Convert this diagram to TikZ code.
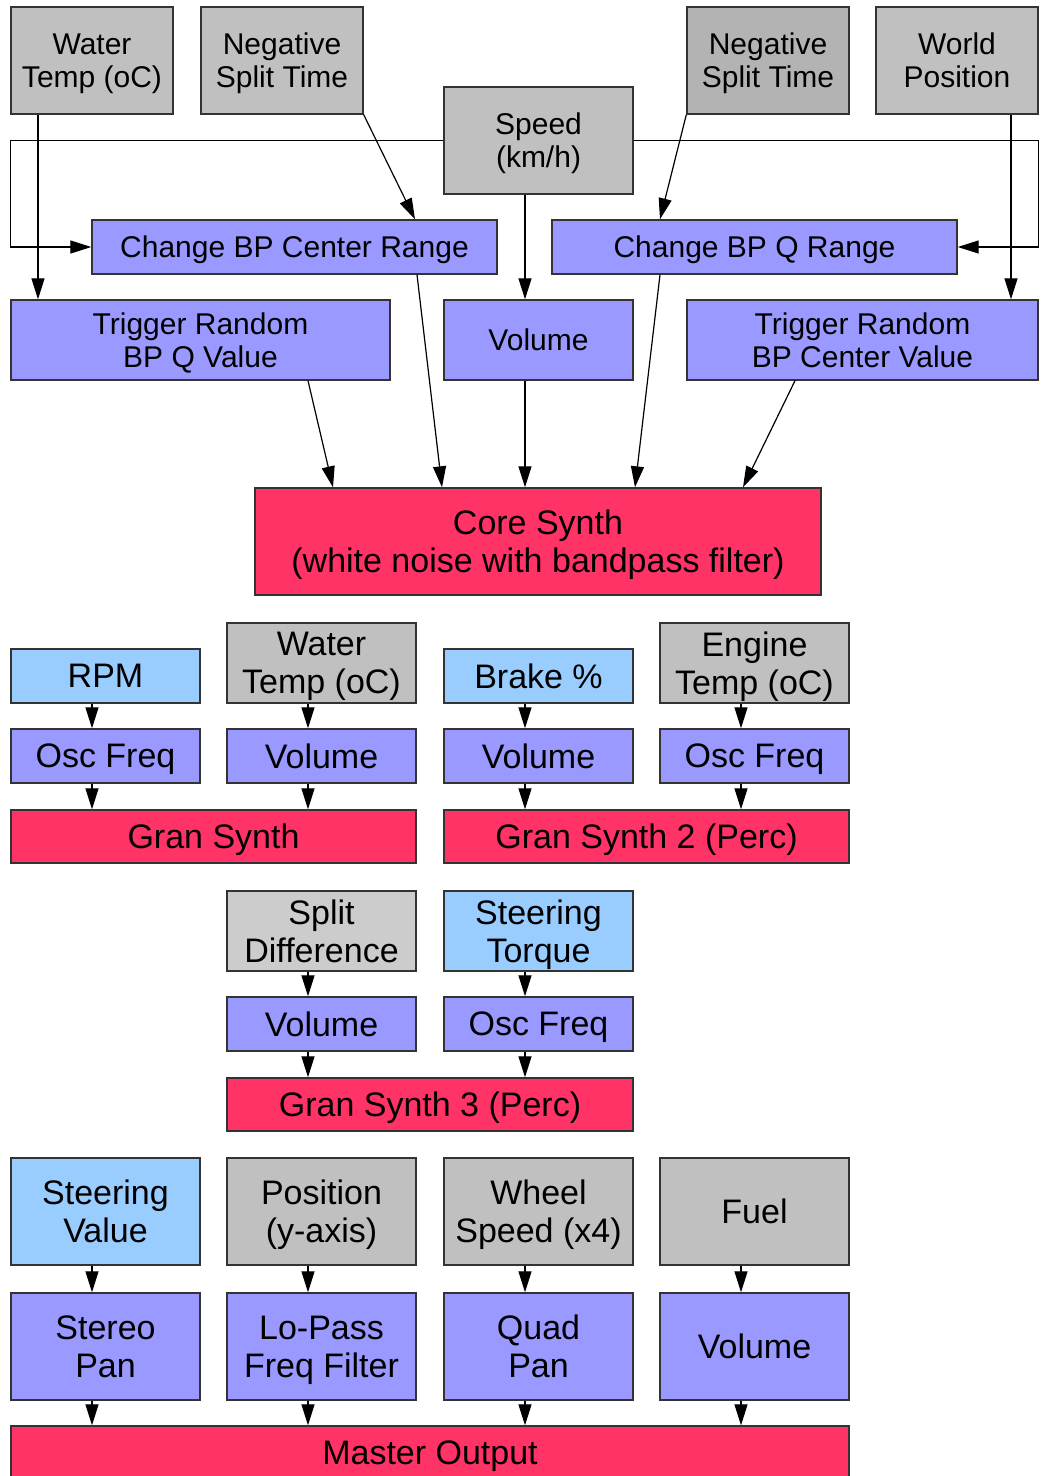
\documentclass[tikz,border=0pt]{standalone}
\usepackage{fontspec}
\setmainfont{Liberation Sans}
\usetikzlibrary{arrows.meta}
\definecolor{srcgray}{HTML}{C0C0C0}
\definecolor{srcdark}{HTML}{B3B3B3}
\definecolor{srclight}{HTML}{CCCCCC}
\definecolor{srcblue}{HTML}{99CCFF}
\definecolor{ctlblue}{HTML}{9999FF}
\definecolor{synred}{HTML}{FF3366}
\newcommand{\off}{-13.5pt}

\begin{document}
\begin{tikzpicture}[x=1pt,y=-1pt,
  box/.style={draw=black!80,line width=1.4pt,inner sep=0pt,align=center,text depth=0pt},
  small/.style={box,font=\fontsize{30}{33}\selectfont},
  big/.style={box,font=\fontsize{34}{38}\selectfont},
  arr/.style={-{Triangle[length=21pt,width=13pt]},line width=1.2pt}]
\useasboundingbox (0,0) rectangle (1044,1476);
% inputs to the core synth
\node[small,fill=srcgray,minimum width=162,minimum height=107] (wt) at (92,60.5) {Water\\Temp (oC)};
\node[small,fill=srcgray,minimum width=162,minimum height=107] (ns1) at (282,60.5) {Negative\\Split Time};
\node[small,fill=srcgray,minimum width=189,minimum height=107] (spd) at (538.5,140.5) {Speed\\(km/h)};
\node[small,fill=srcdark,minimum width=162,minimum height=107] (ns2) at (768,60.5) {Negative\\Split Time};
\node[small,fill=srcgray,minimum width=162,minimum height=107] (wp) at (957,60.5) {World\\Position};
\node[small,fill=ctlblue,minimum width=405,minimum height=54] (cbc) at (294.5,247) {Change BP Center Range};
\node[small,fill=ctlblue,minimum width=405,minimum height=54] (cbq) at (754.5,247) {Change BP Q Range};
\node[small,fill=ctlblue,minimum width=379,minimum height=80] (trq) at (200.5,340) {Trigger Random\\BP Q Value};
\node[small,fill=ctlblue,minimum width=189,minimum height=80] (vol) at (538.5,340) {Volume};
\node[small,fill=ctlblue,minimum width=351,minimum height=80] (trc) at (862.5,340) {Trigger Random\\BP Center Value};
\node[big,fill=synred,minimum width=566,minimum height=107] (core) at (538,541.5) {Core Synth\\(white noise with bandpass filter)};

\draw[arr] ([xshift=-54pt]wt.south) -- ([xshift=-54pt]wt.south |- trq.north);
\draw[arr] (spd.west) -- (spd.west -| trq.west) |- (cbc.west);
\draw[arr] (spd.east) -- (spd.east -| trc.east) |- (cbq.east);
\draw[arr] ([xshift=\off]spd.south) -- ([xshift=\off]vol.north);
\draw[arr] (ns1.south east) -- ([xshift=120.5pt]cbc.north);
\draw[arr] (ns2.south west) -- ([xshift=-94.5pt]cbq.north);
\draw[arr] ([xshift=54pt]wp.south) -- ([xshift=54pt]wp.south |- trc.north);
\draw[arr] ([xshift=107.5pt]trq.south) -- ([xshift=-205pt]core.north);
\draw[arr] ([xshift=122.5pt]cbc.south) -- ([xshift=-96pt]core.north);
\draw[arr] ([xshift=\off]vol.south) -- ([xshift=-13pt]core.north);
\draw[arr] ([xshift=-94.5pt]cbq.south) -- ([xshift=97pt]core.north);
\draw[arr] ([xshift=-67.5pt]trc.south) -- ([xshift=205pt]core.north);

% granular synths
\node[big,fill=srcblue,minimum width=189,minimum height=54] (rpm) at (105.5,676) {RPM};
\node[big,fill=srcgray,minimum width=189,minimum height=80] (wt2) at (321.5,663) {Water\\Temp (oC)};
\node[big,fill=srcblue,minimum width=189,minimum height=54] (brk) at (538.5,676) {Brake \%};
\node[big,fill=srcgray,minimum width=189,minimum height=80] (eng) at (754.5,663) {Engine\\Temp (oC)};
\node[big,fill=ctlblue,minimum width=189,minimum height=54] (osc1) at (105.5,756) {Osc Freq};
\node[big,fill=ctlblue,minimum width=189,minimum height=54] (vol1) at (321.5,756) {Volume};
\node[big,fill=ctlblue,minimum width=189,minimum height=54] (vol2) at (538.5,756) {Volume};
\node[big,fill=ctlblue,minimum width=189,minimum height=54] (osc2) at (754.5,756) {Osc Freq};
\node[big,fill=synred,minimum width=405,minimum height=53] (gs1) at (213.5,836.5) {Gran Synth};
\node[big,fill=synred,minimum width=405,minimum height=53] (gs2) at (646.5,836.5) {Gran Synth 2 (Perc)};

\node[big,fill=srclight,minimum width=189,minimum height=80] (sd) at (321.5,931) {Split\\Difference};
\node[big,fill=srcblue,minimum width=189,minimum height=80] (st) at (538.5,931) {Steering\\Torque};
\node[big,fill=ctlblue,minimum width=189,minimum height=54] (vol3) at (321.5,1024) {Volume};
\node[big,fill=ctlblue,minimum width=189,minimum height=54] (osc3) at (538.5,1024) {Osc Freq};
\node[big,fill=synred,minimum width=406,minimum height=53] (gs3) at (430,1104.5) {Gran Synth 3 (Perc)};

% output stage
\node[big,fill=srcblue,minimum width=189,minimum height=107] (sv) at (105.5,1211.5) {Steering\\Value};
\node[big,fill=srcgray,minimum width=189,minimum height=107] (pos) at (321.5,1211.5) {Position\\(y-axis)};
\node[big,fill=srcgray,minimum width=189,minimum height=107] (ws) at (538.5,1211.5) {Wheel\\Speed (x4)};
\node[big,fill=srcgray,minimum width=189,minimum height=107] (fuel) at (754.5,1211.5) {Fuel};
\node[big,fill=ctlblue,minimum width=189,minimum height=107] (pan) at (105.5,1346.5) {Stereo\\Pan};
\node[big,fill=ctlblue,minimum width=189,minimum height=107] (lpf) at (321.5,1346.5) {Lo-Pass\\Freq Filter};
\node[big,fill=ctlblue,minimum width=189,minimum height=107] (qp) at (538.5,1346.5) {Quad\\Pan};
\node[big,fill=ctlblue,minimum width=189,minimum height=107] (vol4) at (754.5,1346.5) {Volume};
\node[big,fill=synred,minimum width=838,minimum height=54] (mo) at (430,1453) {Master Output};

\foreach \a/\b in {rpm/osc1,wt2/vol1,brk/vol2,eng/osc2,sd/vol3,st/osc3,sv/pan,pos/lpf,ws/qp,fuel/vol4}
  \draw[arr] ([xshift=\off]\a.south) -- ([xshift=\off]\b.north);
\foreach \a/\b in {osc1/gs1,vol1/gs1,vol2/gs2,osc2/gs2,vol3/gs3,osc3/gs3,pan/mo,lpf/mo,qp/mo,vol4/mo}
  \draw[arr] ([xshift=\off]\a.south) -- ([xshift=\off]\a.south |- \b.north);
\end{tikzpicture}
\end{document}
